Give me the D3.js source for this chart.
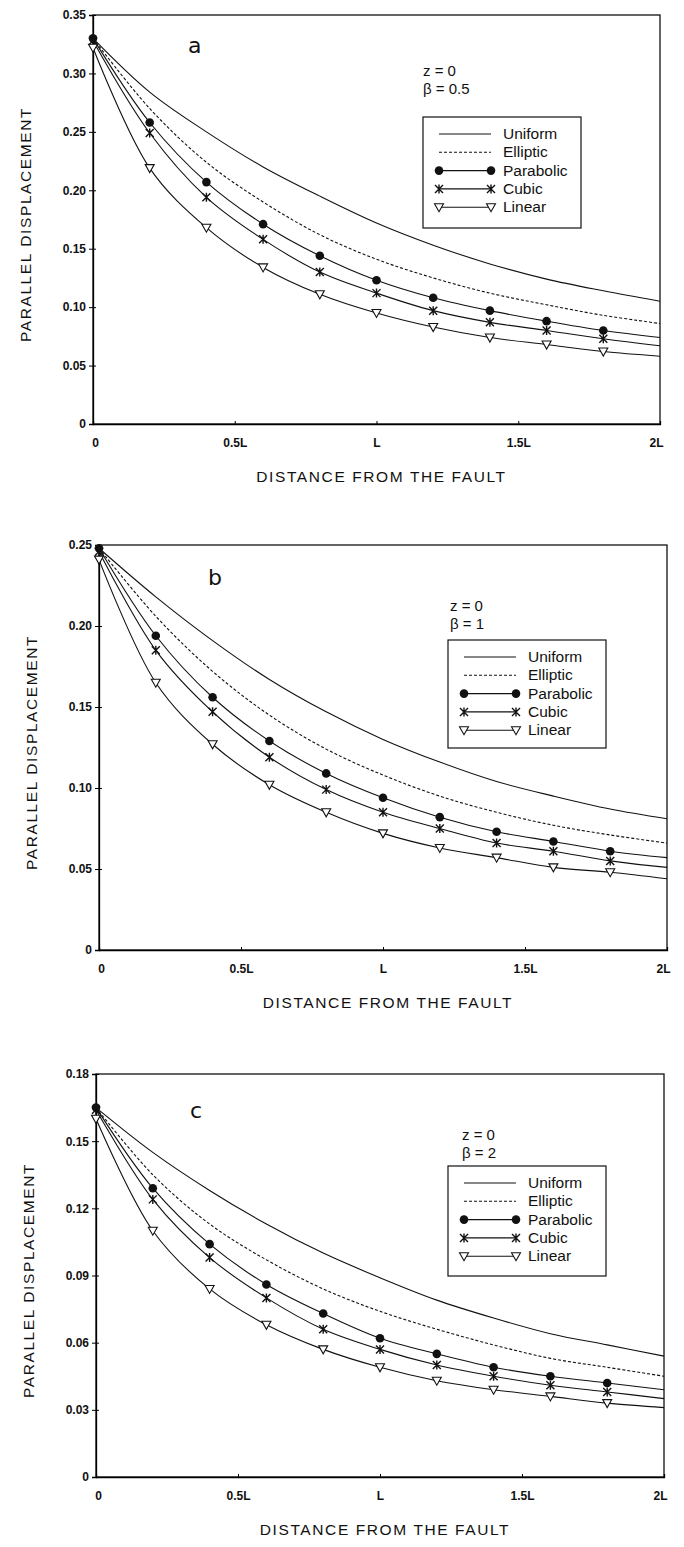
<!DOCTYPE html>
<html>
<head>
<meta charset="utf-8">
<script src="https://cdn.jsdelivr.net/npm/d3@7"></script>
<style>
  body { margin: 0; background: #fff; }
  svg { display: block; }
  text { font-family: "Liberation Sans", Arial, sans-serif; fill: #111; }
  .tick text { font-size: 12px; font-weight: bold; }
  .title { font-size: 15.5px; letter-spacing: 1.6px; }
  .legend text { font-size: 15.5px; }
  .param { font-size: 15px; }
  .letter { font-family: "DejaVu Sans", sans-serif; font-size: 22px; }
</style>
</head>
<body>
<svg width="684" height="1547"></svg>
<script>
// distances from the fault, in units of L
const distances = [0, 0.2, 0.4, 0.6, 0.8, 1.0, 1.2, 1.4, 1.6, 1.8, 2.0]
const xTickValues = [0, 0.5, 1, 1.5, 2]
const xTickLabels = ['0', '0.5L', 'L', '1.5L', '2L']
const seriesNames = ['Uniform', 'Elliptic', 'Parabolic', 'Cubic', 'Linear']

// panel a, beta = 0.5
const uniformA   = [0.330, 0.284, 0.250, 0.220, 0.195, 0.172, 0.153, 0.137, 0.124, 0.114, 0.105]
const ellipticA  = [0.330, 0.270, 0.224, 0.190, 0.162, 0.141, 0.125, 0.112, 0.102, 0.093, 0.086]
const parabolicA = [0.330, 0.258, 0.207, 0.171, 0.144, 0.123, 0.108, 0.097, 0.088, 0.080, 0.074]
const cubicA     = [0.328, 0.249, 0.194, 0.158, 0.130, 0.112, 0.097, 0.087, 0.080, 0.073, 0.067]
const linearA    = [0.322, 0.219, 0.168, 0.134, 0.111, 0.095, 0.083, 0.074, 0.068, 0.062, 0.058]
const yTicksA = [0, 0.05, 0.10, 0.15, 0.20, 0.25, 0.30, 0.35]

// panel b, beta = 1
const uniformB   = [0.248, 0.218, 0.191, 0.167, 0.147, 0.130, 0.116, 0.104, 0.095, 0.087, 0.081]
const ellipticB  = [0.248, 0.206, 0.172, 0.145, 0.124, 0.108, 0.095, 0.085, 0.077, 0.071, 0.066]
const parabolicB = [0.248, 0.194, 0.156, 0.129, 0.109, 0.094, 0.082, 0.073, 0.067, 0.061, 0.057]
const cubicB     = [0.246, 0.185, 0.147, 0.119, 0.099, 0.085, 0.075, 0.066, 0.061, 0.055, 0.051]
const linearB    = [0.241, 0.165, 0.127, 0.102, 0.085, 0.072, 0.063, 0.057, 0.051, 0.048, 0.044]
const yTicksB = [0, 0.05, 0.10, 0.15, 0.20, 0.25]

// panel c, beta = 2
const uniformC   = [0.165, 0.145, 0.128, 0.113, 0.100, 0.089, 0.079, 0.071, 0.064, 0.059, 0.054]
const ellipticC  = [0.165, 0.135, 0.113, 0.097, 0.084, 0.074, 0.066, 0.059, 0.053, 0.049, 0.045]
const parabolicC = [0.165, 0.129, 0.104, 0.086, 0.073, 0.062, 0.055, 0.049, 0.045, 0.042, 0.039]
const cubicC     = [0.164, 0.124, 0.098, 0.080, 0.066, 0.057, 0.050, 0.045, 0.041, 0.038, 0.035]
const linearC    = [0.160, 0.110, 0.084, 0.068, 0.057, 0.049, 0.043, 0.039, 0.036, 0.033, 0.031]
const yTicksC = [0, 0.03, 0.06, 0.09, 0.12, 0.15, 0.18]

const svg = d3.select('svg')

// layout of each panel on the page
const panels = [
  {letter: 'a', beta: '0.5', series: [uniformA, ellipticA, parabolicA, cubicA, linearA],
   ticks: yTicksA, left: 93, right: 660, top: 15, bottom: 424,
   letterPos: [188, 53], paramPos: [423, 76], legend: [423, 117, 158, 111]},
  {letter: 'b', beta: '1', series: [uniformB, ellipticB, parabolicB, cubicB, linearB],
   ticks: yTicksB, left: 99, right: 667, top: 545, bottom: 950,
   letterPos: [208, 585], paramPos: [450, 611], legend: [448, 640, 158, 108]},
  {letter: 'c', beta: '2', series: [uniformC, ellipticC, parabolicC, cubicC, linearC],
   ticks: yTicksC, left: 96, right: 664, top: 1074, bottom: 1477,
   letterPos: [190, 1118], paramPos: [462, 1140], legend: [448, 1166, 158, 110]}
]

const fmt = d => d === 0 ? '0' : d.toFixed(2)

// marker drawing helper
const drawMarker = (sel, kind) => {
  if (kind === 'Parabolic') {
    sel.append('circle').attr('r', 4.3).attr('fill', '#111')
  } else if (kind === 'Cubic') {
    sel.append('path')
      .attr('d', 'M-4,-4L4,4M-4,4L4,-4M0,-4.5L0,4.5')
      .attr('stroke', '#111').attr('stroke-width', 1.4).attr('fill', 'none')
  } else if (kind === 'Linear') {
    sel.append('path')
      .attr('d', 'M-4.5,-3.5L4.5,-3.5L0,4.5Z')
      .attr('stroke', '#111').attr('stroke-width', 1.1).attr('fill', '#fff')
  }
}

panels.forEach(p => {
  const x = d3.scaleLinear().domain([0, 2]).range([p.left, p.right])
  const y = d3.scaleLinear().domain([0, p.ticks[p.ticks.length - 1]]).range([p.bottom, p.top])

  const g = svg.append('g')

  // frame
  g.append('rect')
    .attr('x', p.left).attr('y', p.top)
    .attr('width', p.right - p.left).attr('height', p.bottom - p.top)
    .attr('fill', 'none').attr('stroke', '#111').attr('stroke-width', 1.3)

  // y axis
  const yAxis = g.append('g')
    .attr('transform', `translate(${p.left},0)`)
    .call(d3.axisLeft(y).tickValues(p.ticks).tickFormat(fmt).tickSize(4).tickPadding(3))
  yAxis.select('.domain').attr('stroke-width', 1.3)
  yAxis.selectAll('.tick line').clone().attr('x2', 3)

  // x axis
  const xAxis = g.append('g')
    .attr('transform', `translate(0,${p.bottom})`)
    .call(d3.axisBottom(x).tickValues(xTickValues).tickFormat((d, i) => xTickLabels[i]).tickSize(-3).tickPadding(14))
  xAxis.select('.domain').attr('stroke-width', 1.3)
  xAxis.selectAll('.tick text').attr('dx', (d, i) => i === 0 ? 2 : (i === 4 ? -4 : 0))

  // axis titles
  g.append('text').attr('class', 'title')
    .attr('x', (p.left + p.right) / 2 + 5).attr('y', p.bottom + 58)
    .attr('text-anchor', 'middle')
    .text('DISTANCE FROM THE FAULT')

  g.append('text').attr('class', 'title')
    .attr('transform', `translate(${p.left - 62},${(p.top + p.bottom) / 2 + 5}) rotate(-90)`)
    .attr('text-anchor', 'middle')
    .text('PARALLEL DISPLACEMENT')

  // curves
  const line = d3.line()
    .x((d, i) => x(distances[i]))
    .y(d => y(d))
    .curve(d3.curveCatmullRom.alpha(0.5))

  p.series.forEach((vals, k) => {
    g.append('path')
      .datum(vals)
      .attr('d', line)
      .attr('fill', 'none')
      .attr('stroke', '#111')
      .attr('stroke-width', 1.1)
      .attr('stroke-dasharray', seriesNames[k] === 'Elliptic' ? '3,2' : null)
  })

  // markers (none at 2L)
  p.series.forEach((vals, k) => {
    if (k < 2) return
    vals.slice(0, distances.length - 1).forEach((v, i) => {
      const m = g.append('g').attr('transform', `translate(${x(distances[i])},${y(v)})`)
      drawMarker(m, seriesNames[k])
    })
  })

  // panel letter
  g.append('text').attr('class', 'letter')
    .attr('x', p.letterPos[0]).attr('y', p.letterPos[1])
    .text(p.letter)

  // parameters
  g.append('text').attr('class', 'param')
    .attr('x', p.paramPos[0]).attr('y', p.paramPos[1])
    .text('z = 0')
  g.append('text').attr('class', 'param')
    .attr('x', p.paramPos[0]).attr('y', p.paramPos[1] + 18)
    .text(`β = ${p.beta}`)

  // legend
  const [lx, ly, lw, lh] = p.legend
  const lg = g.append('g').attr('class', 'legend')
  lg.append('rect')
    .attr('x', lx).attr('y', ly).attr('width', lw).attr('height', lh)
    .attr('fill', '#fff').attr('stroke', '#111').attr('stroke-width', 1.2)

  seriesNames.forEach((name, k) => {
    const ry = ly + 17 + k * 18.3
    lg.append('line')
      .attr('x1', lx + 16).attr('x2', lx + 68)
      .attr('y1', ry).attr('y2', ry)
      .attr('stroke', '#111').attr('stroke-width', 1.1)
      .attr('stroke-dasharray', name === 'Elliptic' ? '3,2' : null)
    if (k >= 2) {
      drawMarker(lg.append('g').attr('transform', `translate(${lx + 16},${ry})`), name)
      drawMarker(lg.append('g').attr('transform', `translate(${lx + 68},${ry})`), name)
    }
    lg.append('text')
      .attr('x', lx + 80).attr('y', ry + 5)
      .text(name)
  })
})
</script>
</body>
</html>
